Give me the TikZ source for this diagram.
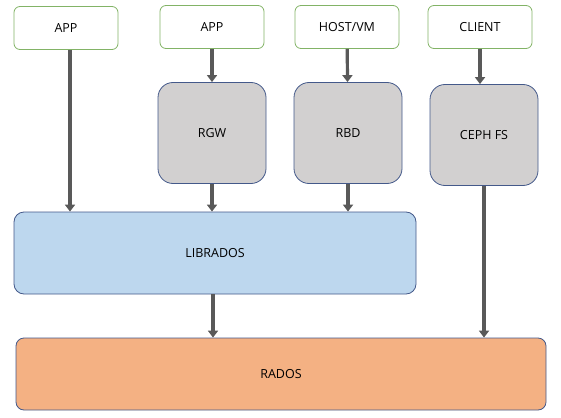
\documentclass[tikz,border=0pt]{standalone}
\usepackage{fontspec}
\setmainfont{Open Sans}
\usetikzlibrary{arrows.meta}
\definecolor{appline}{HTML}{82B366}
\definecolor{boxline}{HTML}{44598A}
\definecolor{gwfill}{HTML}{D2D0D0}
\definecolor{libfill}{HTML}{BDD7EE}
\definecolor{radosfill}{HTML}{F4B183}
\definecolor{arrcol}{HTML}{595959}
\begin{document}
\begin{tikzpicture}[x=1pt,y=-1pt,
        font=\fontsize{12.5}{15}\selectfont,
        appbox/.style={draw=appline,line width=0.8pt,rounded corners=6pt,
            minimum width=104pt,minimum height=43pt,inner sep=0pt},
        gwbox/.style={draw=boxline,fill=gwfill,line width=0.8pt,rounded corners=15pt,
            minimum width=108pt,minimum height=101pt,inner sep=0pt},
        arr/.style={draw=arrcol,line width=3.2pt,-{Triangle[width=10pt,length=7pt]}}]
        \useasboundingbox (0,0) rectangle (561,417);
        % top row
        \node[appbox] (app1) at (66,28) {APP};
        \node[appbox] (app2) at (212,27) {APP};
        \node[appbox] (host) at (347,27) {HOST/VM};
        \node[appbox] (client) at (480,27) {CLIENT};
        % gateways
        \node[gwbox] (rgw) at (212,133) {RGW};
        \node[gwbox] (rbd) at (348,133) {RBD};
        \node[gwbox] (cephfs) at (484,135) {CEPH FS};
        % libs
        \node[draw=boxline,fill=libfill,line width=0.8pt,rounded corners=10pt,
            minimum width=402pt,minimum height=82pt,inner sep=0pt] (librados) at (215,253) {LIBRADOS};
        \node[draw=boxline,fill=radosfill,line width=0.8pt,rounded corners=8pt,
            minimum width=530pt,minimum height=72pt,inner sep=0pt] (rados) at (281,374) {RADOS};
        \draw[arr] ([xshift=4pt]app1.south) -- ([xshift=4pt]app1.south |- librados.north);
        \draw[arr] (app2) -- (rgw);
        \draw[arr] (rgw) -- (rgw.south |- librados.north);
        \draw[arr] (host) -- (rbd);
        \draw[arr] (rbd) -- (rbd.south |- librados.north);
        \draw[arr] (client.south) -- (client.south |- cephfs.north);
        \draw[arr] (cephfs) -- (cephfs.south |- rados.north);
        \draw[arr] ([xshift=-2pt]librados.south) -- ([xshift=-2pt]librados.south |- rados.north);
    \end{tikzpicture}
\end{document}
